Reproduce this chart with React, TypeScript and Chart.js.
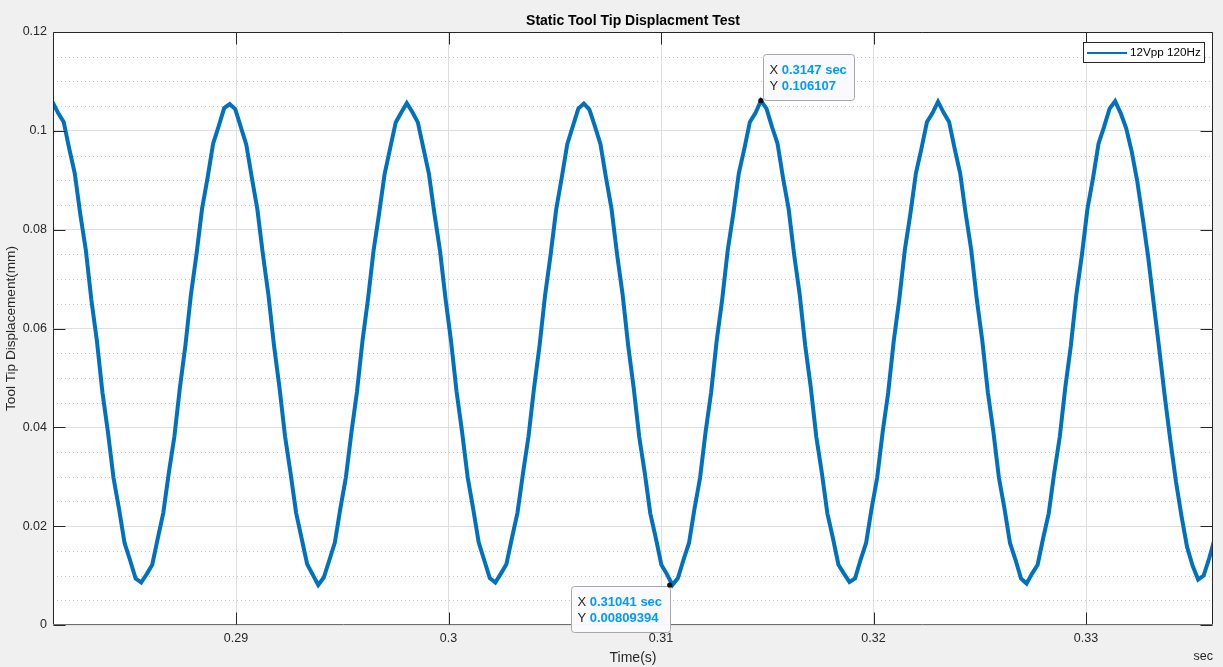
import React, { useEffect, useRef } from "react";
import { Chart, registerables } from "chart.js";

Chart.register(...registerables);

// ---- Data ----
const sampleStart = 0.28137; // s, time of first sample
const sampleStep = 0.000260417; // s, spacing between samples
const displacement = [
  // cycle 1
  0.1058, 0.1036, 0.1018, 0.0964, 0.0914, 0.0831, 0.0759, 0.0658, 0.0575, 0.0471, 0.0390, 0.0298, 0.0235, 0.0166, 0.0131, 0.0094,
  0.0086, 0.0103, 0.0122, 0.0175, 0.0227, 0.0308, 0.0381, 0.0480, 0.0566, 0.0669, 0.0750, 0.0842, 0.0905, 0.0974, 0.1009, 0.1046,
  // cycle 2
  0.1054, 0.1044, 0.1008, 0.0972, 0.0905, 0.0841, 0.0750, 0.0668, 0.0566, 0.0480, 0.0382, 0.0307, 0.0227, 0.0175, 0.0123, 0.0102,
  0.0081, 0.0096, 0.0131, 0.0167, 0.0236, 0.0299, 0.0390, 0.0472, 0.0575, 0.0660, 0.0758, 0.0833, 0.0913, 0.0965, 0.1017, 0.1037,
  // cycle 3
  0.1056, 0.1038, 0.1017, 0.0965, 0.0913, 0.0832, 0.0758, 0.0660, 0.0574, 0.0472, 0.0390, 0.0299, 0.0235, 0.0167, 0.0131, 0.0095,
  0.0086, 0.0104, 0.0123, 0.0176, 0.0227, 0.0307, 0.0382, 0.0480, 0.0566, 0.0668, 0.0750, 0.0841, 0.0905, 0.0973, 0.1009, 0.1045,
  // cycle 4
  0.1055, 0.1043, 0.1009, 0.0973, 0.0905, 0.0842, 0.0750, 0.0669, 0.0566, 0.0480, 0.0381, 0.0308, 0.0226, 0.0176, 0.0122, 0.0103,
  0.0081, 0.0095, 0.0132, 0.0166, 0.0236, 0.0298, 0.0391, 0.0471, 0.0575, 0.0659, 0.0759, 0.0832, 0.0914, 0.0964, 0.1018, 0.1036,
  // cycle 5
  0.1061, 0.1045, 0.1008, 0.0974, 0.0904, 0.0842, 0.0749, 0.0669, 0.0565, 0.0481, 0.0381, 0.0308, 0.0226, 0.0176, 0.0122, 0.0104,
  0.0087, 0.0094, 0.0132, 0.0166, 0.0236, 0.0298, 0.0391, 0.0471, 0.0575, 0.0659, 0.0759, 0.0832, 0.0914, 0.0964, 0.1018, 0.1036,
  // cycle 6
  0.1059, 0.1037, 0.1018, 0.0964, 0.0914, 0.0832, 0.0759, 0.0659, 0.0575, 0.0471, 0.0391, 0.0298, 0.0236, 0.0166, 0.0132, 0.0094,
  0.0084, 0.0104, 0.0122, 0.0176, 0.0226, 0.0308, 0.0381, 0.0481, 0.0565, 0.0669, 0.0749, 0.0842, 0.0904, 0.0974, 0.1008, 0.1045,
  // cycle 7 (partial)
  0.1060, 0.1036, 0.1005, 0.0958, 0.0898, 0.0822, 0.0742, 0.0648, 0.0556, 0.0460, 0.0372, 0.0290, 0.0220, 0.0158, 0.0120, 0.0092,
  0.0100, 0.0135, 0.0175,
];

const xRange = [0.281388, 0.335976];
const yRange = [0, 0.12];
const xTickValues = [0.29, 0.3, 0.31, 0.32, 0.33];
const xTickLabels = ["0.29", "0.3", "0.31", "0.32", "0.33"];
const yTickValues = [0, 0.02, 0.04, 0.06, 0.08, 0.1, 0.12];
const yTickLabels = ["0", "0.02", "0.04", "0.06", "0.08", "0.1", "0.12"];
const yMinorStep = 0.005;

const seriesName = "12Vpp 120Hz";
const chartTitle = "Static Tool Tip Displacment Test";
const xAxisTitle = "Time(s)";
const yAxisTitle = "Tool Tip Displacement(mm)";
const xUnitLabel = "sec";

const tipX = [0.3147, 0.31041];
const tipY = [0.106107, 0.00809394];
const tipXText = ["0.3147 sec", "0.31041 sec"];
const tipYText = ["0.106107", "0.00809394"];

// ---- Styles ----
const FONT = '"Liberation Sans", Arial, Helvetica, sans-serif';
const LINE_COLOR = "#0072BD";
const AXIS_COLOR = "#262626";
const TIP_PLACEMENT = ["upRight", "downLeft"];

const matlabPlugin = {
  id: "matlabLook",
  beforeDraw(chart: any) {
    const { ctx, chartArea: a } = chart;
    ctx.save();
    ctx.fillStyle = "#f0f0f0";
    ctx.fillRect(0, 0, chart.width, chart.height);
    ctx.fillStyle = "#ffffff";
    ctx.fillRect(a.left, a.top, a.right - a.left, a.bottom - a.top);
    ctx.restore();
  },
  beforeDatasetsDraw(chart: any) {
    const { ctx, chartArea: a } = chart;
    const ys = chart.scales.y;
    ctx.save();
    ctx.strokeStyle = "#c4c4c4";
    ctx.lineWidth = 1;
    ctx.setLineDash([1, 3]);
    for (let v = yRange[0]; v <= yRange[1] + 1e-9; v += yMinorStep) {
      const isMajor = yTickValues.some((t) => Math.abs(t - v) < 1e-9);
      if (isMajor) continue;
      const py = Math.round(ys.getPixelForValue(v)) + 0.5;
      ctx.beginPath();
      ctx.moveTo(a.left, py);
      ctx.lineTo(a.right, py);
      ctx.stroke();
    }
    ctx.restore();
  },
  afterDraw(chart: any) {
    const { ctx, chartArea: a } = chart;
    const xs = chart.scales.x;
    const ys = chart.scales.y;
    const L = Math.round(a.left) + 0.5;
    const R = Math.round(a.right) - 0.5;
    const T = Math.round(a.top) + 0.5;
    const B = Math.round(a.bottom) - 0.5;
    ctx.save();

    // axes box
    ctx.lineWidth = 1;
    ctx.strokeStyle = AXIS_COLOR;
    ctx.beginPath();
    ctx.moveTo(L, B);
    ctx.lineTo(L, T);
    ctx.lineTo(R, T);
    ctx.lineTo(R, B);
    ctx.stroke();
    ctx.strokeStyle = "#6f6f6f";
    ctx.beginPath();
    ctx.moveTo(L, B);
    ctx.lineTo(R, B);
    ctx.stroke();

    // inward ticks
    const tl = 12;
    ctx.strokeStyle = AXIS_COLOR;
    ctx.beginPath();
    xTickValues.forEach((v) => {
      const px = Math.round(xs.getPixelForValue(v)) + 0.5;
      ctx.moveTo(px, B);
      ctx.lineTo(px, B - tl);
      ctx.moveTo(px, T);
      ctx.lineTo(px, T + tl);
    });
    yTickValues.forEach((v) => {
      const py = Math.round(ys.getPixelForValue(v)) + 0.5;
      ctx.moveTo(L, py);
      ctx.lineTo(L + tl, py);
      ctx.moveTo(R, py);
      ctx.lineTo(R - tl, py);
    });
    ctx.stroke();

    // titles
    const cx = (a.left + a.right) / 2;
    ctx.fillStyle = "#000000";
    ctx.font = `bold 14px ${FONT}`;
    ctx.textAlign = "center";
    ctx.textBaseline = "middle";
    ctx.fillText(chartTitle, cx, 21);

    ctx.fillStyle = AXIS_COLOR;
    ctx.font = `14px ${FONT}`;
    ctx.fillText(xAxisTitle, cx, 658);

    ctx.save();
    ctx.font = `13.6px ${FONT}`;
    ctx.translate(11, (a.top + a.bottom) / 2);
    ctx.rotate(-Math.PI / 2);
    ctx.fillText(yAxisTitle, 0, 0);
    ctx.restore();

    ctx.font = `12.5px ${FONT}`;
    ctx.textAlign = "right";
    ctx.fillText(xUnitLabel, a.right, 657);

    // legend
    const lgR = a.right - 9;
    const lgW = 121;
    const lgL = lgR - lgW;
    const lgT = a.top + 10;
    const lgH = 20;
    ctx.fillStyle = "#ffffff";
    ctx.fillRect(lgL, lgT, lgW, lgH);
    ctx.strokeStyle = AXIS_COLOR;
    ctx.lineWidth = 1;
    ctx.strokeRect(Math.round(lgL) + 0.5, Math.round(lgT) + 0.5, lgW, lgH);
    ctx.strokeStyle = LINE_COLOR;
    ctx.lineWidth = 2;
    ctx.beginPath();
    ctx.moveTo(lgL + 4, lgT + 11);
    ctx.lineTo(lgL + 44, lgT + 11);
    ctx.stroke();
    ctx.fillStyle = "#000000";
    ctx.font = `11.7px ${FONT}`;
    ctx.textAlign = "left";
    ctx.textBaseline = "middle";
    ctx.fillText(seriesName, lgL + 47, lgT + 11);

    // data tips
    tipX.forEach((tx, i) => {
      const px = xs.getPixelForValue(tx);
      const py = ys.getPixelForValue(tipY[i]);
      ctx.font = `13px ${FONT}`;
      const wX = ctx.measureText("X ").width;
      const wY = ctx.measureText("Y ").width;
      ctx.font = `bold 13px ${FONT}`;
      const w1 = ctx.measureText(tipXText[i]).width;
      const w2 = ctx.measureText(tipYText[i]).width;
      const boxW = Math.round(Math.max(wX + w1, wY + w2) + 14);
      const boxH = 46;
      let bx: number;
      let by: number;
      if (TIP_PLACEMENT[i] === "upRight") {
        bx = px + 2;
        by = py - 1 - boxH;
      } else {
        bx = px - boxW;
        by = py + 1;
      }
      bx = Math.round(bx) + 0.5;
      by = Math.round(by) + 0.5;
      ctx.lineWidth = 1;
      ctx.fillStyle = "rgba(250,250,252,0.97)";
      ctx.strokeStyle = "#a8a8a8";
      ctx.beginPath();
      if ((ctx as any).roundRect) (ctx as any).roundRect(bx, by, boxW, boxH, 3);
      else ctx.rect(bx, by, boxW, boxH);
      ctx.fill();
      ctx.stroke();

      ctx.textAlign = "left";
      ctx.textBaseline = "middle";
      const tx0 = bx + 6;
      ctx.font = `13px ${FONT}`;
      ctx.fillStyle = AXIS_COLOR;
      ctx.fillText("X", tx0, by + 15.5);
      ctx.fillText("Y", tx0, by + 31.5);
      ctx.font = `bold 13px ${FONT}`;
      ctx.fillStyle = "#0099ff";
      ctx.fillText(tipXText[i], tx0 + wX, by + 15.5);
      ctx.fillText(tipYText[i], tx0 + wY, by + 31.5);

      ctx.fillStyle = "#111111";
      ctx.beginPath();
      ctx.arc(px, py, 2.6, 0, Math.PI * 2);
      ctx.fill();
    });

    ctx.restore();
  },
};

export default function App() {
  const canvasRef = useRef<HTMLCanvasElement | null>(null);

  useEffect(() => {
    const canvas = canvasRef.current;
    if (!canvas) return;
    const points = displacement.map((y, i) => ({ x: sampleStart + i * sampleStep, y }));
    const tickFont = { family: FONT, size: 12.5 };

    const chart = new Chart(canvas, {
      type: "line",
      data: {
        datasets: [
          {
            label: seriesName,
            data: points,
            borderColor: LINE_COLOR,
            backgroundColor: LINE_COLOR,
            borderWidth: 4,
            pointRadius: 0,
            tension: 0,
            clip: 0,
          } as any,
        ],
      },
      options: {
        responsive: false,
        animation: false,
        devicePixelRatio: 1,
        parsing: false,
        layout: { padding: { top: 32, right: 10, bottom: 0, left: 0 } },
        plugins: {
          legend: { display: false },
          title: { display: false },
          tooltip: { enabled: false },
        },
        events: [],
        scales: {
          x: {
            type: "linear",
            min: xRange[0],
            max: xRange[1],
            afterFit: (s: any) => {
              s.height = 42;
            },
            afterBuildTicks: (s: any) => {
              s.ticks = xTickValues.map((v) => ({ value: v }));
            },
            ticks: {
              autoSkip: false,
              maxRotation: 0,
              padding: 6,
              color: AXIS_COLOR,
              font: tickFont,
              callback: (_v: any, idx: number) => xTickLabels[idx],
            },
            grid: { color: "#dfdfdf", lineWidth: 1, drawTicks: false },
            border: { display: false },
          },
          y: {
            type: "linear",
            min: yRange[0],
            max: yRange[1],
            afterFit: (s: any) => {
              s.width = 53;
            },
            afterBuildTicks: (s: any) => {
              s.ticks = yTickValues.map((v) => ({ value: v }));
            },
            ticks: {
              autoSkip: false,
              padding: 6,
              color: AXIS_COLOR,
              font: tickFont,
              callback: (_v: any, idx: number) => yTickLabels[idx],
            },
            grid: { color: "#dfdfdf", lineWidth: 1, drawTicks: false },
            border: { display: false },
          },
        },
      } as any,
      plugins: [matlabPlugin],
    });

    return () => chart.destroy();
  }, []);

  return (
    <div
      style={{
        position: "fixed",
        left: 0,
        top: 0,
        width: 1223,
        height: 667,
        background: "#f0f0f0",
      }}
    >
      <canvas ref={canvasRef} width={1223} height={667} style={{ display: "block", width: 1223, height: 667 }} />
    </div>
  );
}
